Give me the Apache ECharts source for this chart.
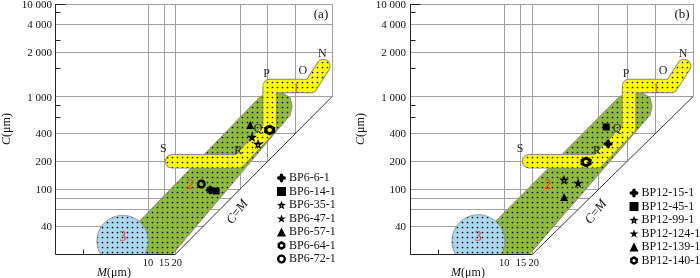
<!DOCTYPE html>
<html><head><meta charset="utf-8">
<script src="https://cdn.jsdelivr.net/npm/echarts@6/dist/echarts.min.js"></script>
<style>html,body{margin:0;padding:0;background:#fff}#c{width:700px;height:278px}</style>
</head><body><div id="c"></div>
<script>
// ---- axis ticks (C and M in micrometres) ----
const yTickValues = [10000, 6000, 3000, 1000, 400, 200, 100, 40];
const yTickLabels = ['10 000', '4 000', '2 000', '1 000', '400', '200', '100', '40'];
const yMinorTicks = [8000, 4000, 2000, 800, 600];
const xTickValues = [10, 15, 20];
const xTickLabels = ['10', '15', '20'];
const xMinorTicks = [2];
const gridFullC = [10000, 6000, 3000, 1000];
const gridPartC = [400, 200, 100, 80, 60, 40];
const gridFullM = [10, 15, 20];
const gridPartM = [100, 200, 400, 1000];

// ---- Passega C-M regions ----
const region1Path = [[18.3, 200], [96, 200], [210, 458], [210, 1300], [586, 1300], [805, 2140]];
const region2Poly = [[3.3, 18], [160, 966], [186, 1066], [232, 1122], [296, 1094], [351, 966], [368, 791], [351, 632], [17, 18]];
const region3Center = [5.3, 27.6];
const region3RadiusDec = 0.28;
const regionLabels = ['1', '2', '3'];
const regionLabelPos = [[406, 1208], [29, 111], [5.3, 30.5]];
const letters = ['N', 'O', 'P', 'Q', 'R', 'S'];
const letterPos = [[785, 2884], [482, 1890], [195, 1754], [157, 447], [96, 259], [14.7, 272]];
const cmLabelPos = [94, 56.8];

// ---- samples ----
const samplesA = ['BP6-6-1', 'BP6-14-1', 'BP6-35-1', 'BP6-47-1', 'BP6-57-1', 'BP6-64-1', 'BP6-72-1'];
const symbolsA = ['clover', 'square', 'hollowStar', 'star', 'triangle', 'hexRing', 'ring'];
const mA = [47.4, 54.9, 157, 135, 129, 210, 38];
const cA = [98, 95.7, 308, 366, 493, 436, 114];

const samplesB = ['BP12-15-1', 'BP12-45-1', 'BP12-99-1', 'BP12-124-1', 'BP12-139-1', 'BP12-140-1'];
const symbolsB = ['clover', 'square', 'hollowStar', 'star', 'triangle', 'hexRing'];
const mB = [126, 120, 43, 60.5, 43, 73.5];
const cB = [308, 470, 126, 117, 82.4, 197];

const panelLabels = ['(a)', '(b)'];

const SERIF = '"Liberation Serif","Times New Roman",serif';
const F = (size, style) => (style ? style + ' ' : '') + size + 'px ' + SERIF;
const STARP = 'M50,0L61.2,34.5L97.6,34.5L68.2,55.9L79.4,90.5L50,69.1L20.6,90.5L31.8,55.9L2.4,34.5L38.8,34.5Z';
const SYM = {
  clover: {symbol: 'path://M3,2A2,2 0 0 1 7,2L7,3L8,3A2,2 0 0 1 8,7L7,7L7,8A2,2 0 0 1 3,8L3,7L2,7A2,2 0 0 1 2,3L3,3Z', size: 9},
  square: {symbol: 'rect', size: 7},
  hollowStar: {symbol: 'path://M50,0L63,32L100,35L70,57L80,93L50,73L20,93L30,57L0,35L37,32ZM50,48A8,8 0 1 0 50,64A8,8 0 1 0 50,48Z', size: 10},
  star: {symbol: 'path://' + STARP, size: 10},
  triangle: {symbol: 'triangle', size: 8},
  hexRing: {symbol: 'path://M5,0L9.33,2.5L9.33,7.5L5,10L0.67,7.5L0.67,2.5ZM5,3.2A1.8,1.8 0 1 0 5,6.8A1.8,1.8 0 1 0 5,3.2Z', size: 11},
  ring: {symbol: 'path://M5,0A5,5 0 1 1 5,10A5,5 0 1 1 5,0ZM5,2.6A2.4,2.4 0 1 0 5,7.4A2.4,2.4 0 1 0 5,2.6Z', size: 9}
};

function makePattern(bg) {
  const cv = document.createElement('canvas');
  cv.width = 5; cv.height = 5;
  const g = cv.getContext('2d');
  g.fillStyle = bg; g.fillRect(0, 0, 5, 5);
  g.fillStyle = '#000';
  g.beginPath(); g.arc(2.5, 2.5, 0.85, 0, Math.PI * 2); g.fill();
  return {image: cv, repeat: 'repeat'};
}
const patGreen = makePattern('#8fbb3c');
const patBlue = makePattern('#a8d7ef');
const patYellow = makePattern('#ffff00');

const crisp = v => Math.round(v - 0.5) + 0.5;

function gridRender(params, api) {
  const P = v => api.coord(v);
  const ch = [];
  const gl = {stroke: '#a0a0a0', lineWidth: 1};
  const add = (a, b, st) => ch.push({type: 'line', shape: {x1: a[0], y1: a[1], x2: b[0], y2: b[1]}, style: st});
  gridFullC.forEach(c => { const a = P([1, c]), b = P([1000, c]); add([a[0], crisp(a[1])], [b[0] + 0.5, crisp(b[1])], gl); });
  gridPartC.forEach(c => { const a = P([1, c]), b = P([c, c]); add([a[0], crisp(a[1])], [b[0], crisp(b[1])], gl); });
  gridFullM.forEach(m => { const a = P([m, 20]), b = P([m, 10000]); add([crisp(a[0]), a[1]], [crisp(b[0]), b[1]], gl); });
  gridPartM.forEach(m => { const a = P([m, m]), b = P([m, 10000]); add([crisp(a[0]), a[1]], [crisp(b[0]), b[1]], gl); });
  return {type: 'group', children: ch};
}

function shapeRender(params, api) {
  const P = v => api.coord(v);
  const ch = [];
  ch.push({type: 'polygon', shape: {points: region2Poly.map(P)}, style: {fill: patGreen, stroke: '#7d7d7d', lineWidth: 0.8}});
  const c = P(region3Center);
  const r = P([region3Center[0] * Math.pow(10, region3RadiusDec), region3Center[1]])[0] - c[0];
  ch.push({type: 'circle', shape: {cx: c[0], cy: c[1], r: r}, style: {fill: patBlue, stroke: '#8a8a8a', lineWidth: 0.8}});
  const pts = region1Path.map(P);
  ch.push({type: 'polyline', shape: {points: pts}, style: {stroke: '#8a8a8a', lineWidth: 14.5, lineCap: 'round', lineJoin: 'round', fill: null}});
  ch.push({type: 'polyline', shape: {points: pts}, style: {stroke: patYellow, lineWidth: 12.6, lineCap: 'round', lineJoin: 'round', fill: null}});
  return {type: 'group', children: ch};
}

function txt(x, y, text, font, fill, align, extra) {
  return {type: 'text', x: x, y: y, style: Object.assign({text: text, font: font, fill: fill, align: align || 'center', verticalAlign: 'middle'}, extra || {})};
}

function textRender(params, api) {
  const P = v => api.coord(v);
  const ch = [];
  const panel = params.seriesName === 'axesB' ? 1 : 0;
  const blk = {stroke: '#222', lineWidth: 1};
  const add = (a, b, st) => ch.push({type: 'line', shape: {x1: a[0], y1: a[1], x2: b[0], y2: b[1]}, style: st});
  const o = P([1, 20]), t = P([1, 10000]);
  const ax = crisp(o[0]), ay = crisp(o[1]);
  add([ax, ay], [ax, t[1]], blk);
  add([ax, ay], [P([20, 20])[0], ay], blk);
  add(P([20, 20]), P([1000, 1000]), {stroke: '#333', lineWidth: 1});
  const re = P([1000, 1000]);
  add([crisp(re[0]), re[1]], [crisp(re[0]), t[1]], {stroke: '#a0a0a0', lineWidth: 1});
  add([ax, crisp(t[1])], [ax + 10, crisp(t[1])], blk);
  yMinorTicks.forEach(v => { const p = P([1, v]); add([ax, crisp(p[1])], [ax + 5, crisp(p[1])], blk); });
  xMinorTicks.forEach(v => { const p = P([v, 20]); add([crisp(p[0]), ay], [crisp(p[0]), ay - 5], blk); });
  yTickValues.forEach((v, i) => {
    const p = P([1, v]);
    ch.push(txt(p[0] - 4, p[1] + 1, yTickLabels[i], F(11), '#111', 'right'));
  });
  xTickValues.forEach((v, i) => {
    const p = P([v, 20]);
    ch.push(txt(p[0] + (i === 2 ? 1 : 0), p[1] + 9, xTickLabels[i], F(10.5), '#111', 'center'));
  });
  const ri = {i: {font: F(12, 'italic'), fill: '#111'}, n: {font: F(12), fill: '#111'}};
  ch.push(txt(o[0] + 58, o[1] + 19, '{i|M}{n|(μm)}', F(12), '#111', 'center', {rich: ri}));
  const cm = P(cmLabelPos);
  const el = txt(cm[0], cm[1], '{i|C}{n|=}{i|M}', F(13), '#111', 'center', {rich: {i: {font: F(13, 'italic'), fill: '#111'}, n: {font: F(13), fill: '#111'}}});
  el.rotation = 52 * Math.PI / 180;
  ch.push(el);
  const tr = P([1000, 10000]);
  ch.push(txt(tr[0] - 11, tr[1] + 11, panelLabels[panel], F(13), '#111', 'center'));
  letters.forEach((l, i) => {
    const p = P(letterPos[i]);
    ch.push(txt(p[0], p[1], l, F(12), '#222', 'center'));
  });
  regionLabels.forEach((l, i) => {
    const p = P(regionLabelPos[i]);
    ch.push(txt(p[0], p[1], l, F(14), '#f03c32', 'center'));
  });
  return {type: 'group', children: ch};
}

function sampleSeries(names, syms, ms, cs, idx) {
  return names.map((n, i) => {
    const s = SYM[syms[i]];
    return {type: 'scatter', name: n, xAxisIndex: idx, yAxisIndex: idx, z: 10,
      symbol: s.symbol, symbolSize: s.size, data: [[ms[i], cs[i]]],
      itemStyle: {color: '#000', borderWidth: 0, opacity: 1},
      emphasis: {disabled: true}, silent: true};
  });
}

function bgSeries(idx) {
  return [
    {type: 'custom', name: 'grid' + idx, xAxisIndex: idx, yAxisIndex: idx, z: 1, clip: false, silent: true, data: [[0]], renderItem: gridRender},
    {type: 'custom', name: 'shapes' + idx, xAxisIndex: idx, yAxisIndex: idx, z: 2, clip: true, silent: true, data: [[0]], renderItem: shapeRender},
    {type: 'custom', name: idx ? 'axesB' : 'axesA', xAxisIndex: idx, yAxisIndex: idx, z: 3, clip: false, silent: true, data: [[0]], renderItem: textRender}
  ];
}

const axisX = idx => ({type: 'log', logBase: 10, gridIndex: idx, min: 1, max: 1000, show: false});
const axisY = idx => ({type: 'log', logBase: 10, gridIndex: idx, min: 20, max: 10000,
  axisLine: {show: false}, axisTick: {show: false}, axisLabel: {show: false}, splitLine: {show: false},
  name: '{i|C}{n|(μm)}', nameLocation: 'middle', nameGap: 43,
  nameTextStyle: {fontFamily: SERIF, fontSize: 12, color: '#111',
    rich: {i: {fontStyle: 'italic', fontFamily: SERIF, fontSize: 12, color: '#111'}, n: {fontFamily: SERIF, fontSize: 12, color: '#111'}}}});

const legendBase = {orient: 'vertical', itemWidth: 9, itemHeight: 9, itemGap: 1.5, padding: 0, selectedMode: false,
  textStyle: {fontFamily: SERIF, fontSize: 12, lineHeight: 12, color: '#111', padding: [0, 0, 0, -2]}};

const chart = echarts.init(document.getElementById('c'), null, {renderer: 'canvas'});
chart.setOption({
  animation: false,
  backgroundColor: '#fff',
  grid: [{left: 49, top: 4, width: 283, height: 250}, {left: 410, top: 4, width: 283, height: 250}],
  xAxis: [axisX(0), axisX(1)],
  yAxis: [axisY(0), axisY(1)],
  legend: [
    Object.assign({}, legendBase, {data: samplesA, left: 277, top: 172}),
    Object.assign({}, legendBase, {data: samplesB, left: 629.5, top: 187})
  ],
  series: [].concat(bgSeries(0), bgSeries(1),
    sampleSeries(samplesA, symbolsA, mA, cA, 0),
    sampleSeries(samplesB, symbolsB, mB, cB, 1))
});
</script>
</body></html>
